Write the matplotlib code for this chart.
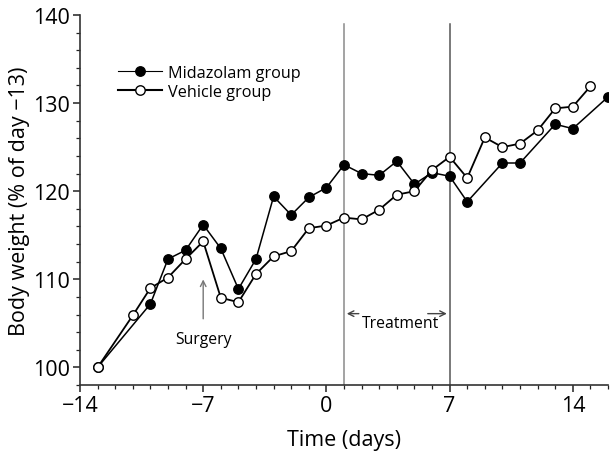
import numpy as np
import matplotlib
matplotlib.use("Agg")
import matplotlib.pyplot as plt
from matplotlib.ticker import MultipleLocator
from matplotlib.lines import Line2D

plt.rcParams["font.family"] = ["Open Sans", "DejaVu Sans"]

# data
mid_days = [-13, -10, -9, -8, -7, -6, -5, -4, -3, -2, -1, 0, 1, 2, 3, 4, 5, 6, 7, 8, 10, 11, 13, 14, 16]
mid_vals = [100.0, 107.2, 112.3, 113.3, 116.2, 113.5, 108.9, 112.3, 119.4, 117.3, 119.3, 120.4,
            123.0, 122.0, 121.8, 123.4, 120.8, 122.1, 121.7, 118.8, 123.2, 123.2, 127.6, 127.1, 130.7]

veh_days = [-13, -11, -10, -9, -8, -7, -6, -5, -4, -3, -2, -1, 0, 1, 2, 3, 4, 5, 6, 7, 8,
            9, 10, 11, 12, 13, 14, 15]
veh_vals = [100.0, 105.9, 109.0, 110.2, 112.3, 114.3, 107.9, 107.4, 110.6, 112.6, 113.2, 115.8,
            116.1, 117.0, 116.8, 117.9, 119.6, 120.0, 122.4, 123.9, 121.5,
            126.1, 125.0, 125.4, 126.9, 129.4, 129.6, 131.9]

x_ticks = [-14, -7, 0, 7, 14]
x_ticklabels = ["\u221214", "\u22127", "0", "7", "14"]
y_ticks = [100, 110, 120, 130, 140]

fig = plt.figure(figsize=(6.12, 4.52), dpi=100)
ax = fig.add_axes([0.1307, 0.146, 0.8628, 0.8186])

ax.axvline(1, ymin=0, ymax=(139.0 - 98) / 42, color="#8a8a8a", lw=1.1, zorder=1)
ax.axvline(7, ymin=0, ymax=(139.0 - 98) / 42, color="#555555", lw=1.1, zorder=1)

ax.plot(mid_days, mid_vals, color="black", lw=1.1, marker="o", ms=6.8,
        mfc="black", mec="black", zorder=3)
ax.plot(veh_days, veh_vals, color="black", lw=1.3, marker="o", ms=6.8,
        mfc="white", mec="black", mew=1.0, zorder=4)

ax.set_xlim(-14, 16)
ax.set_ylim(98, 140)
ax.set_xticks(x_ticks)
ax.set_xticklabels(x_ticklabels)
ax.set_yticks(y_ticks)
ax.xaxis.set_minor_locator(MultipleLocator(1))
ax.yaxis.set_minor_locator(MultipleLocator(2))
ax.tick_params(which="major", direction="out", length=5, width=1.1, labelsize=15.5,
               colors="#222222", pad=2.5)
ax.tick_params(which="minor", direction="out", length=3, width=0.9, colors="#222222")
ax.tick_params(labelcolor="black")

for s in ["top", "right"]:
    ax.spines[s].set_visible(False)
for s in ["left", "bottom"]:
    ax.spines[s].set_linewidth(1.2)
    ax.spines[s].set_color("#333333")

ax.set_xlabel("Time (days)", fontsize=15.5, labelpad=9)
ax.set_ylabel("Body weight (% of day \u221213)", fontsize=15.5, labelpad=2)

# annotations
ax.annotate("", xy=(-7, 110.3), xytext=(-7, 105.2),
            arrowprops=dict(arrowstyle="->", color="#777777", lw=1.0))
ax.text(-7, 103.2, "Surgery", ha="center", va="center", fontsize=11.3)

ax.annotate("", xy=(1.0, 106.1), xytext=(2.0, 106.1),
            arrowprops=dict(arrowstyle="->", color="#444444", lw=1.0))
ax.annotate("", xy=(7.0, 106.1), xytext=(5.6, 106.1),
            arrowprops=dict(arrowstyle="->", color="#444444", lw=1.0))
ax.text(4.2, 105.0, "Treatment", ha="center", va="center", fontsize=11.3)

handles = [
    Line2D([], [], color="black", lw=0.8, marker="o", ms=6.8, mfc="black", mec="black"),
    Line2D([], [], color="black", lw=1.5, marker="o", ms=6.8, mfc="white", mec="black"),
]
ax.legend(handles, ["Midazolam group", "Vehicle group"], loc="upper left",
          bbox_to_anchor=(0.045, 0.905), frameon=False, fontsize=11.7,
          handlelength=2.7, handletextpad=0.35, labelspacing=0.2)

fig.savefig("out.png", dpi=100)
